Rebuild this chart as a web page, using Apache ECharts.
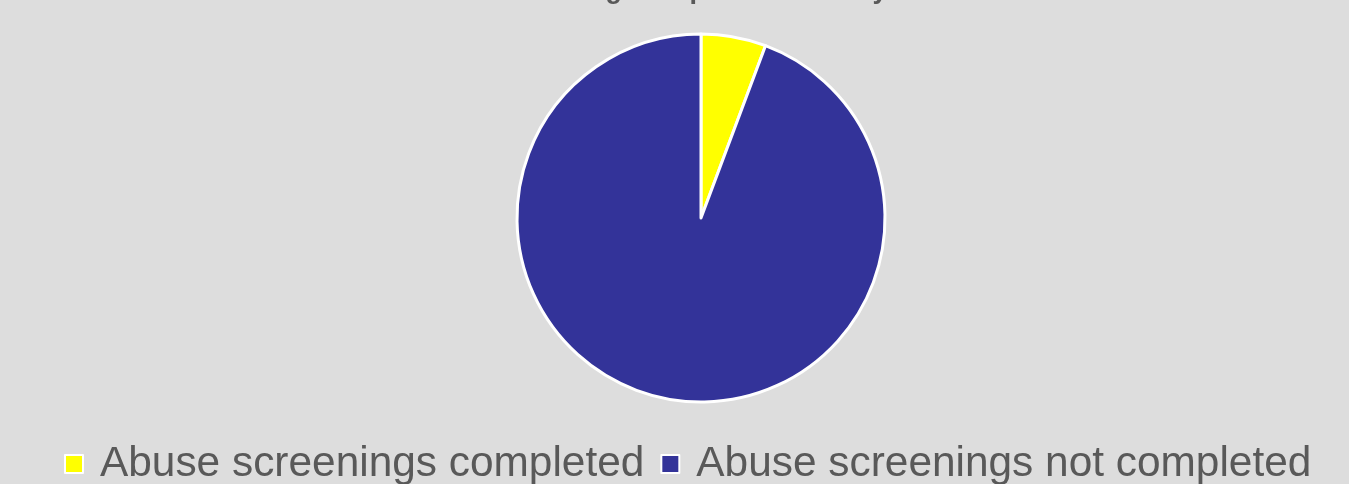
<!DOCTYPE html>
<html>
<head>
<meta charset="utf-8">
<script src="https://cdn.jsdelivr.net/npm/echarts@6/dist/echarts.min.js"></script>
<style>
html,body{margin:0;padding:0;background:#dddddd;}
#chart{width:1349px;height:484px;}
</style>
</head>
<body>
<div id="chart"></div>
<script>
const titleText = "Abuse Screening Compliance Rate by Unit";
const categories = ["Abuse screenings completed", "Abuse screenings not completed"];
const values = [5.7, 94.3];
const colors = ["#ffff00", "#333399"];

const chart = echarts.init(document.getElementById('chart'), null, {renderer: 'canvas'});
chart.setOption({
  backgroundColor: '#dddddd',
  animation: false,
  title: {
    text: titleText,
    left: 'center',
    top: -23,
    padding: 0,
    textStyle: {fontFamily: 'Liberation Sans', fontSize: 27, fontWeight: 'bold', color: '#595959'}
  },
  legend: {
    data: categories,
    left: 64,
    top: 443,
    icon: 'rect',
    itemWidth: 18,
    itemHeight: 18,
    itemGap: 16,
    padding: 0,
    itemStyle: {borderColor: '#ffffff', borderWidth: 2},
    textStyle: {fontFamily: 'Liberation Sans', fontSize: 42.4, color: '#595959', padding: [0, 0, 0, 12]}
  },
  series: [{
    type: 'pie',
    center: [701, 218],
    radius: 184,
    startAngle: 90,
    clockwise: true,
    label: {show: false},
    labelLine: {show: false},
    itemStyle: {borderColor: '#ffffff', borderWidth: 3},
    data: categories.map((c, i) => ({name: c, value: values[i], itemStyle: {color: colors[i]}}))
  }]
});
</script>
</body>
</html>
